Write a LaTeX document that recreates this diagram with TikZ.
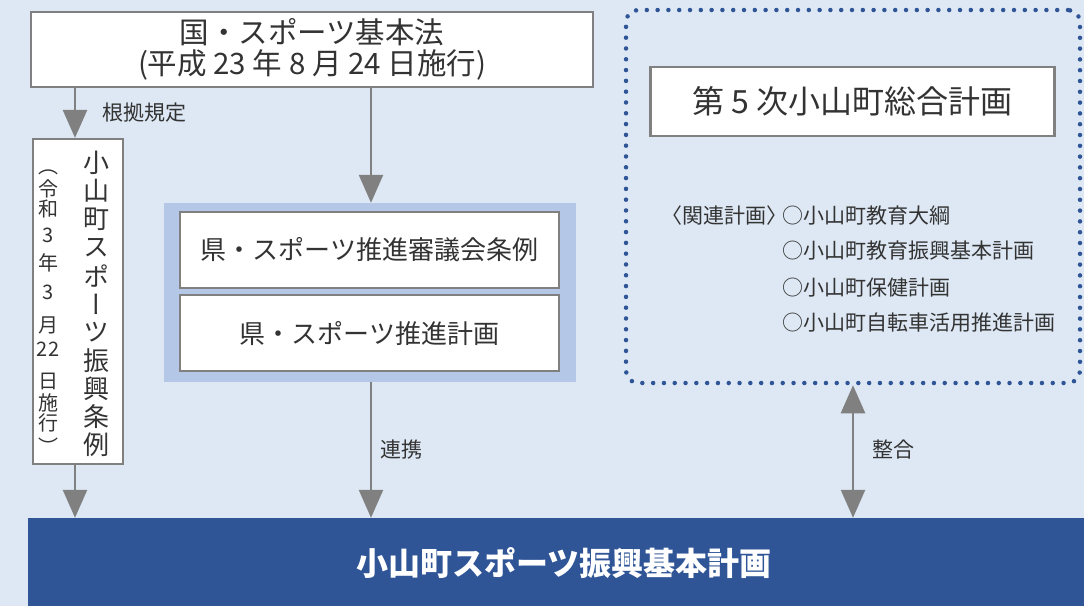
\documentclass[tikz,border=0pt]{standalone}
\usepackage{fontspec}
\setmainfont{Noto Sans CJK JP}
\newfontfamily\vfont{Noto Sans CJK JP}[RawFeature=+vert]
\usetikzlibrary{arrows.meta}
\definecolor{bgblue}{HTML}{DDE8F4}
\definecolor{frameblue}{HTML}{B4C7E7}
\definecolor{darkblue}{HTML}{2F5597}
\definecolor{arrgray}{HTML}{808080}
\definecolor{txt}{HTML}{333333}
\tikzset{
  whitebox/.style={draw=arrgray, line width=2.2pt, fill=white, inner sep=0pt, text=txt, align=center},
  arr/.style={draw=arrgray, line width=2.5pt, -{Triangle[width=24pt,length=28pt]}},
  darr/.style={draw=arrgray, line width=2.5pt, {Triangle[width=24pt,length=28pt]}-{Triangle[width=24pt,length=28pt]}},
  lbl/.style={text=txt, font=\fontsize{21}{24}\selectfont, anchor=west, inner sep=0pt},
  vch/.style={text=txt, inner sep=0pt, font=\vfont\fontsize{26}{26}\selectfont},
  vsm/.style={text=txt, inner sep=0pt, font=\vfont\fontsize{20}{20}\selectfont},
}
\begin{document}
\begin{tikzpicture}[x=1pt,y=-1pt]
\fill[bgblue] (0,0) rectangle (1084,606);
\useasboundingbox (0,0) rectangle (1084,606);

% top box
\node[whitebox, minimum width=562pt, minimum height=75pt, font=\fontsize{29.5}{31}\selectfont] (law) at (312,49.5)
  {国・スポーツ基本法\\(平成 23 年 8 月 24 日施行)};

% left vertical box
\node[whitebox, minimum width=90pt, minimum height=325pt] (ord) at (78,301.5) {};
\foreach \c [count=\i from 0] in {小,山,町,ス,ポ,ー,ツ,振,興,条,例}
  \node[vch] (v\i) at (96,{163+28.2*\i}) {\c};
\node[vsm] (s0) at (48,172) {（};
\node[vsm] (s1) at (48,189) {令};
\node[vsm] (s2) at (48,209) {和};
\node[vsm] (s3) at (48,235) {3};
\node[vsm] (s4) at (48,263) {年};
\node[vsm] (s5) at (48,292) {3};
\node[vsm] (s6) at (48,325) {月};
\node[vsm] (s7) at (48,349) {22};
\node[vsm] (s8) at (48,381) {日};
\node[vsm] (s9) at (48,403) {施};
\node[vsm] (s10) at (48,423) {行};
\node[vsm] (s11) at (48,446) {）};

% prefecture frame
\node[fill=frameblue, minimum width=412pt, minimum height=179pt, inner sep=0pt] (pref) at (369.5,292.5) {};
\node[whitebox, minimum width=379pt, minimum height=76pt, font=\fontsize{26}{30}\selectfont] (pb1) at (369.5,250) {県・スポーツ推進審議会条例};
\node[whitebox, minimum width=379pt, minimum height=76pt, font=\fontsize{26}{30}\selectfont] (pb2) at (369.5,333) {県・スポーツ推進計画};

% dotted frame
\node[draw=darkblue, line width=4.5pt, dash pattern=on 0pt off 10.8pt, line cap=round, rounded corners=12pt,
      minimum width=454pt, minimum height=373pt, inner sep=0pt] (rel) at (853,196.5) {};
\node[whitebox, minimum width=404pt, minimum height=69pt, font=\fontsize{32}{36}\selectfont] (gen) at (852.5,101.5) {第 5 次小山町総合計画};
\node[lbl] (rl) at (661,216) {〈関連計画〉};
\node[lbl] (r1) at (782,216) {○小山町教育大綱};
\node[lbl] (r2) at (782,251) {○小山町教育振興基本計画};
\node[lbl] (r3) at (782,288) {○小山町保健計画};
\node[lbl] (r4) at (782,323) {○小山町自転車活用推進計画};

% bottom bar
\node[fill=darkblue, minimum width=1056pt, minimum height=88pt, inner sep=0pt] (plan) at (556,562) {};
\node[text=white, inner sep=0pt, font=\bfseries\fontsize{32}{36}\selectfont] (plantxt) at (564,563) {小山町スポーツ振興基本計画};

% connectors
\draw[arr] (law.south -| 75,0) -- (ord.north -| 75,0);
\node[lbl] (l1) at (102,113) {根拠規定};
\draw[arr] (ord.south -| 75,0) -- (plan.north -| 75,0);
\draw[arr] (law.south -| 371,0) -- (pref.north -| 371,0);
\draw[arr] (pref.south -| 371,0) -- (plan.north -| 371,0);
\node[lbl] (l2) at (380,450) {連携};
\draw[darr] (rel.south -| 853,0) -- (plan.north -| 853,0);
\node[lbl] (l3) at (872,450) {整合};
\end{tikzpicture}
\end{document}
